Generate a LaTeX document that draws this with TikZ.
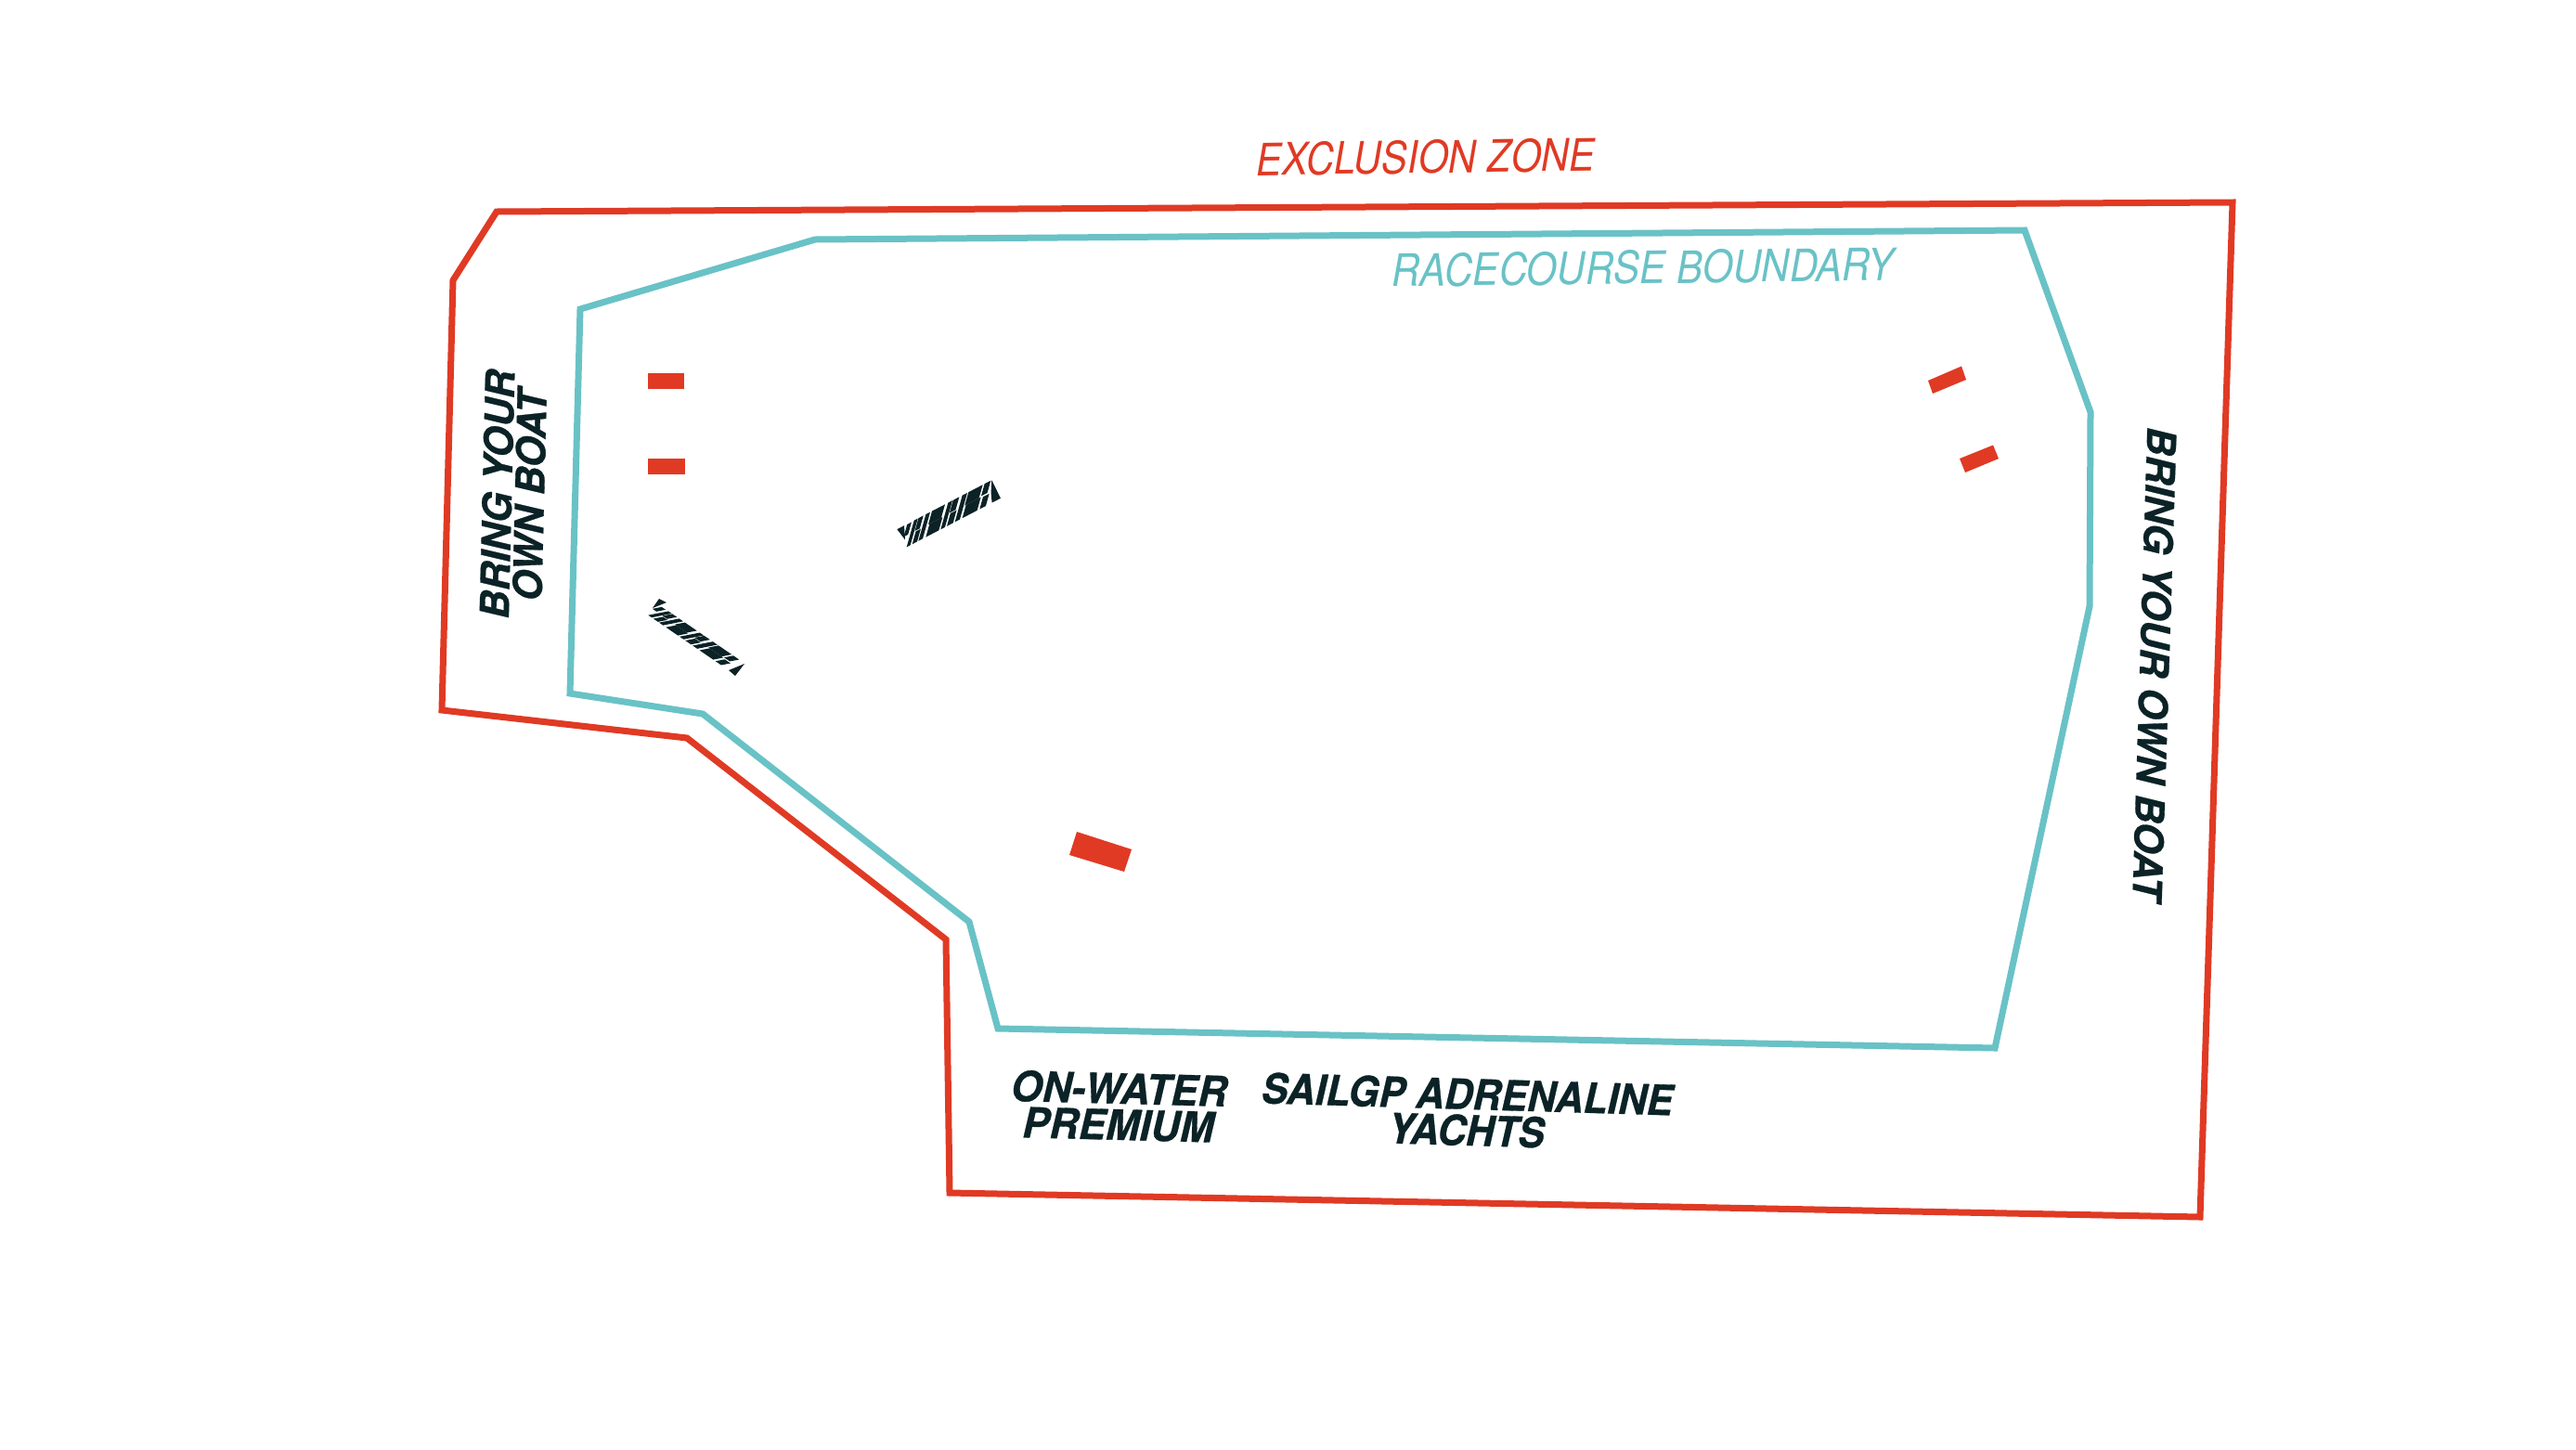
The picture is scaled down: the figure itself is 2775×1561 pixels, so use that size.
\documentclass[tikz,border=0pt]{standalone}
\usepackage{fontspec}
\setmainfont{TeX Gyre Heros}[BoldItalicFeatures={FakeBold=0.7}]
\definecolor{zonered}{HTML}{E03A24}
\definecolor{courseteal}{HTML}{69C2C6}
\definecolor{inkdark}{HTML}{0B2226}
\tikzset{
  zoneline/.style={draw=zonered,line width=7pt,miter limit=10},
  courseline/.style={draw=courseteal,line width=7pt,miter limit=10},
  marker/.style={fill=zonered},
  lightlabel/.style={font=\fontsize{48}{48}\selectfont\itshape,inner sep=0pt,transform shape},
  sidelabel/.style={font=\fontsize{43}{35}\selectfont\bfseries\itshape,text=inkdark,inner sep=0pt,align=center,transform shape},
  bottomlabel/.style={font=\fontsize{45}{39}\selectfont\bfseries\itshape,text=inkdark,inner sep=0pt,align=center,transform shape},
}
\newcommand{\flagcell}[4]{\fill[inkdark] (#1,#3) -- (#2,#3) -- (#2,#4) -- (#1,#4) -- cycle;}
\newcommand{\flagband}{%
  \flagcell{-22}{-8}{.52}{.98}
  \flagcell{0}{12}{0}{1}
  \flagcell{18}{34}{0}{.48}
  \flagcell{14}{30}{.52}{1}
  \flagcell{38}{52}{0}{1}
  \flagcell{62}{104}{0}{.5}
  \flagcell{58}{100}{.5}{1}
  \flagcell{110}{124}{0}{1}
  \flagcell{130}{150}{0}{.48}
  \flagcell{126}{146}{.52}{1}
  \flagcell{156}{172}{0}{1}
  \flagcell{180}{228}{0}{.5}
  \flagcell{176}{222}{.5}{1}
  \flagcell{236}{256}{0}{.46}
  \flagcell{228}{248}{.54}{1}
}
\begin{document}
\begin{tikzpicture}[x=1pt,y=-1pt]
\useasboundingbox (0,0) rectangle (2775,1561);
\fill[white] (0,0) rectangle (2775,1561);
% boundaries
\draw[zoneline] (535,228) -- (488,302) -- (476,765) -- (740,795) -- (1019,1012) -- (1023,1285) -- (2370,1311) -- (2405,218) -- cycle;
\draw[courseline] (878,258) -- (625,333) -- (614,747) -- (757,769) -- (1044,993) -- (1075,1108) -- (2149,1129) -- (2251,653) -- (2252,444) -- (2181,248) -- cycle;
% red markers
\fill[marker] (698,402) -- (737,402) -- (737,419) -- (698,419) -- cycle;
\fill[marker] (698,494) -- (738,494) -- (738,511) -- (698,511) -- cycle;
\fill[marker] (2077,410) -- (2113,394.5) -- (2118,409) -- (2082,424) -- cycle;
\fill[marker] (2111,494) -- (2147,479.5) -- (2153,494) -- (2117,509) -- cycle;
\fill[marker] (1160,896) -- (1219,915) -- (1211,939) -- (1152,921) -- cycle;
% chequered marks
\begin{scope}[shift={(976.7,589.3)},x={(.333pt,.173pt)},y={(8pt,28.67pt)}]
\flagband
\fill[inkdark] (-55,1) -- (-32,1) -- (-14,.36) -- cycle;
\fill[inkdark] (251,1) -- (304,0) -- (276,0) -- (262,.45) -- cycle;
\end{scope}
\begin{scope}[shift={(698.3,662.7)},x={(.307pt,-.21pt)},y={(21.7pt,4.3pt)}]
\flagband
\end{scope}
\fill[inkdark] (703,655) -- (710,645) -- (718,649) -- cycle;
\fill[inkdark] (785,722) -- (802,715) -- (792,728) -- cycle;
% labels
\node[lightlabel,text=zonered,rotate=.8,xscale=.87] (exclusion) at (1536,169) {EXCLUSION ZONE};
\node[lightlabel,text=courseteal,rotate=.7,xscale=.88] (racecourse) at (1770,288) {RACECOURSE BOUNDARY};
\node[sidelabel,rotate=88.6,xscale=.985] (byobleft) at (553,533) {BRING YOUR\\OWN BOAT};
\node[sidelabel,rotate=-91.8,xscale=.99] (byobright) at (2321,715) {BRING YOUR OWN BOAT};
\node[bottomlabel,rotate=-1.5,xscale=.97] (premium) at (1205,1192) {ON-WATER\\PREMIUM};
\node[bottomlabel,rotate=-1.7,xscale=.94] (yachts) at (1580,1198) {SAILGP ADRENALINE\\YACHTS};
\end{tikzpicture}
\end{document}
